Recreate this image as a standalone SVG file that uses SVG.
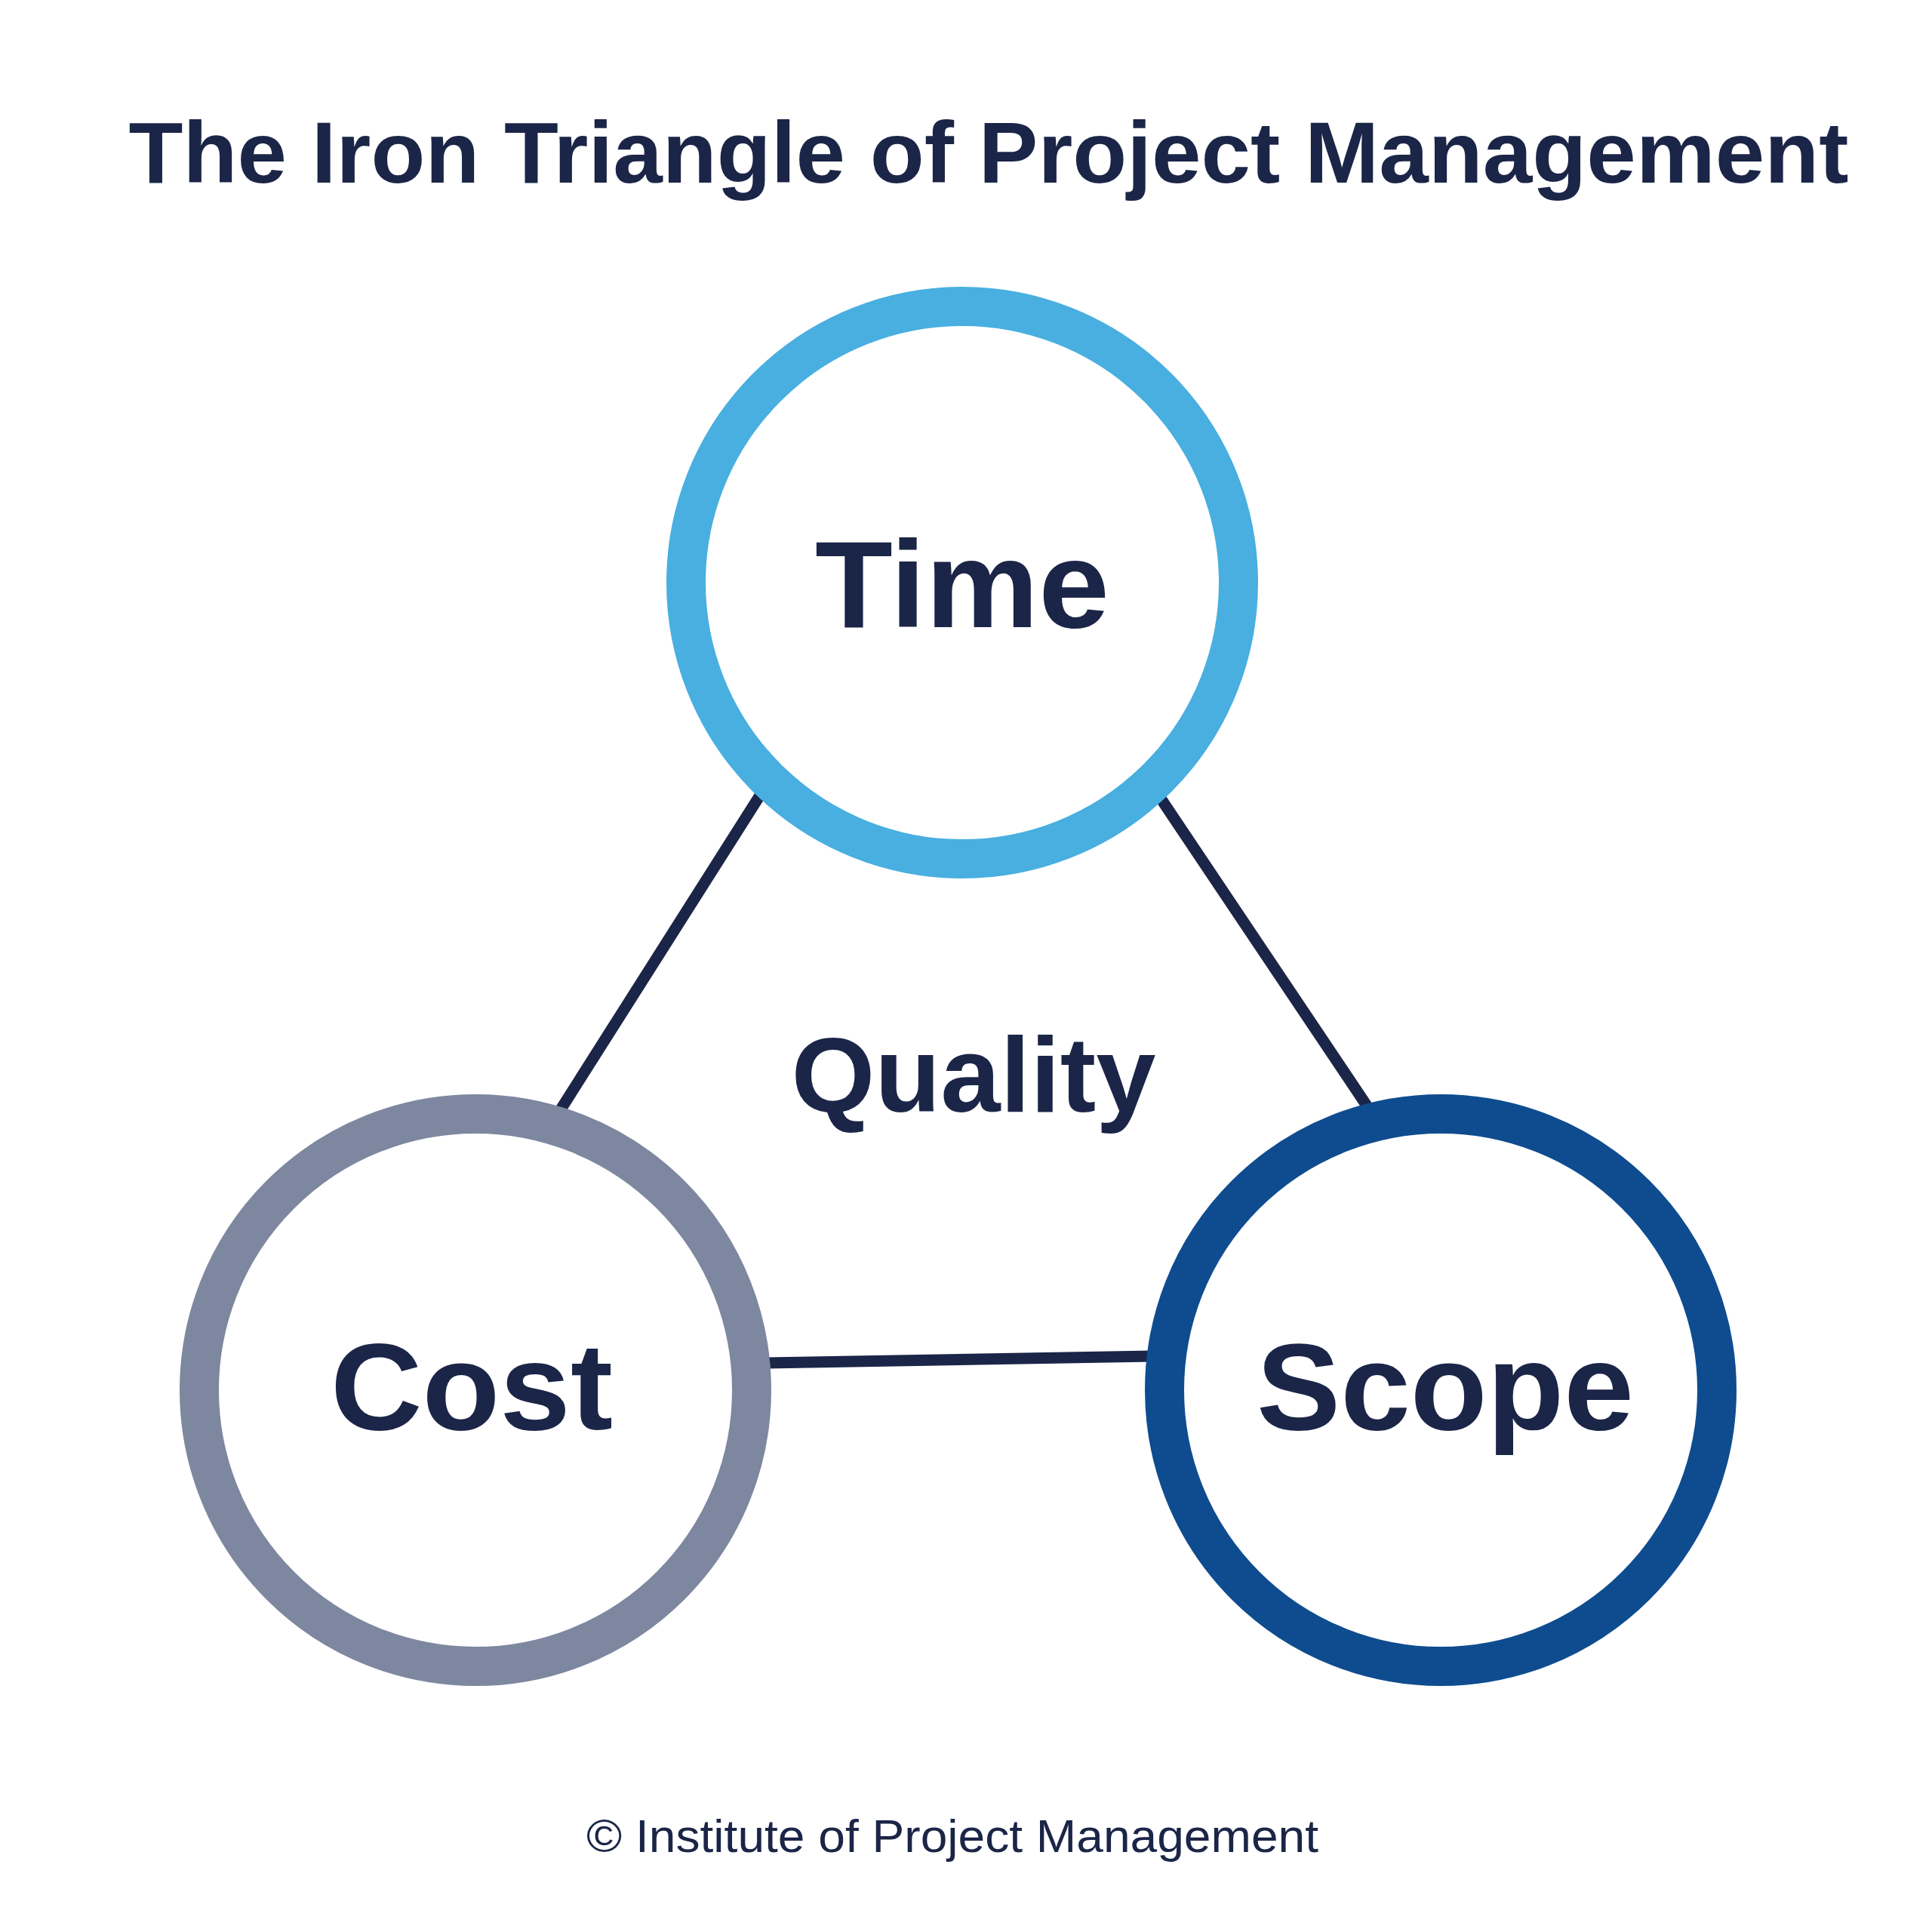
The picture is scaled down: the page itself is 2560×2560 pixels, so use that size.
<svg xmlns="http://www.w3.org/2000/svg" width="2560" height="2560" viewBox="0 0 2560 2560">
<style>
.t{font-family:"Liberation Sans",Arial,sans-serif;fill:#1B2547;text-anchor:middle}
.b{font-weight:bold}
.ring{fill:#FFFFFF;stroke-width:52}
.conn{stroke:#1B2547;stroke-width:15;stroke-linecap:butt;fill:none}
</style>
<rect width="2560" height="2560" fill="#FFFFFF"/>
<text class="t b" x="1310" y="242" font-size="115" textLength="2279" lengthAdjust="spacingAndGlyphs">The Iron Triangle of Project Management</text>
<g id="connectors">
<line class="conn" x1="1012" y1="1046" x2="743" y2="1470"/>
<line class="conn" x1="1534" y1="1052" x2="1813" y2="1468"/>
<line class="conn" x1="1010" y1="1806" x2="1530" y2="1797"/>
</g>
<g id="time">
<circle class="ring" cx="1275" cy="772" r="366" stroke="#48AFE0"/>
<text class="t b" x="1275" y="831" font-size="163" textLength="390" lengthAdjust="spacingAndGlyphs">Time</text>
</g>
<g id="cost">
<circle class="ring" cx="630" cy="1842" r="366" stroke="#7E87A0"/>
<text class="t b" x="625" y="1894" font-size="163" textLength="374" lengthAdjust="spacingAndGlyphs">Cost</text>
</g>
<g id="scope">
<circle class="ring" cx="1909" cy="1842" r="366" stroke="#0E4C8F"/>
<text class="t b" x="1915" y="1894" font-size="163" textLength="500" lengthAdjust="spacingAndGlyphs">Scope</text>
</g>
<g id="quality">
<text class="t b" x="1290" y="1473" font-size="141" textLength="483" lengthAdjust="spacingAndGlyphs">Quality</text>
</g>
<text class="t" x="1262" y="2454" font-size="62" textLength="970" lengthAdjust="spacingAndGlyphs">© Institute of Project Management</text>
</svg>
